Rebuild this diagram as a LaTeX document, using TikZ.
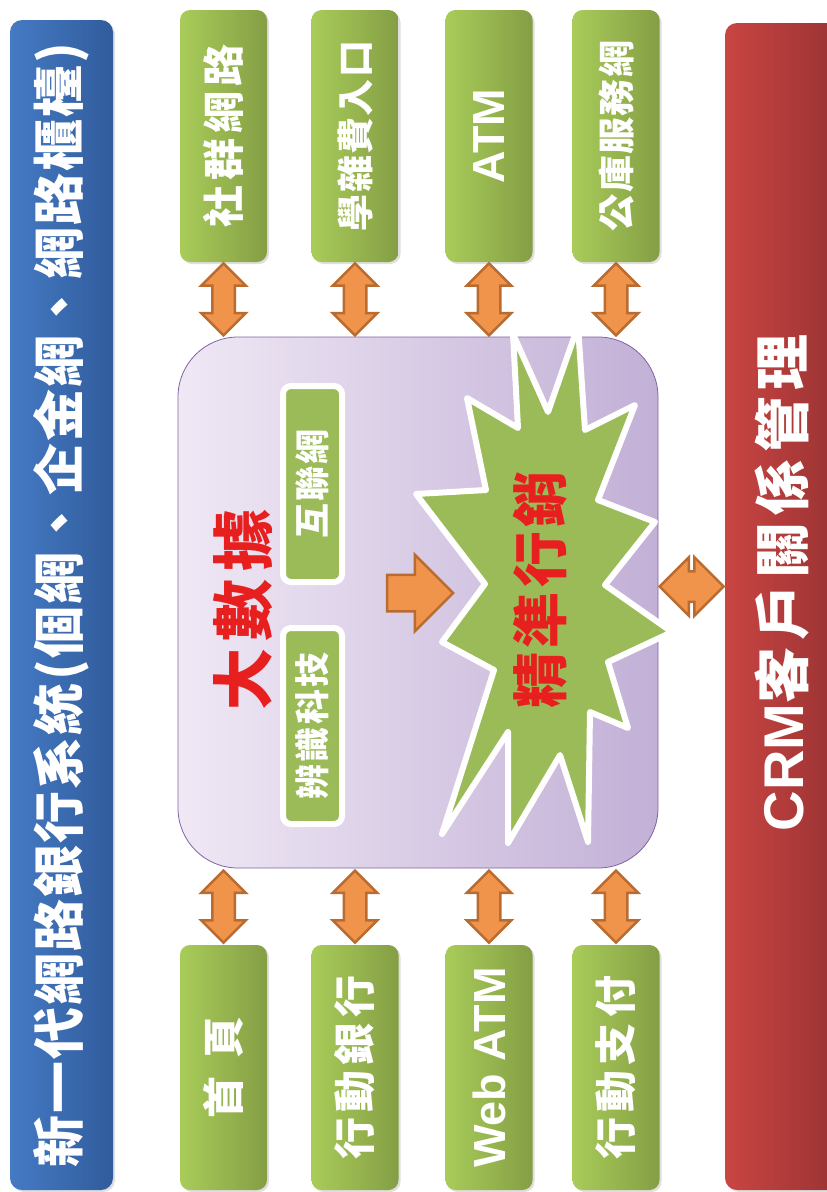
\documentclass[tikz,border=0pt]{standalone}
\usepackage{fontspec}
\setmainfont{Liberation Sans}
\newfontfamily\cjk{Noto Sans CJK TC}
\usetikzlibrary{shapes.arrows,shadows,calc}
\newcommand{\BOXW}{87pt}
\newcommand{\LINEPT}{2.5pt}
\newcommand{\BOXFONT}{\fontsize{42}{42}\selectfont\cjk\bfseries\addfontfeature{LetterSpace=12}}
\newcommand{\SMALLFONT}{\fontsize{37}{37}\selectfont\cjk\bfseries\addfontfeature{LetterSpace=4}}
\newcommand{\LATINFONT}{\fontsize{45}{45}\selectfont\bfseries}
\definecolor{mybluel}{rgb}{0.27,0.48,0.77}
\definecolor{myblued}{rgb}{0.19,0.36,0.61}
\definecolor{myredl}{rgb}{0.79,0.27,0.26}
\definecolor{myredd}{rgb}{0.60,0.20,0.20}
\definecolor{mygreenl}{rgb}{0.66,0.80,0.35}
\definecolor{mygreend}{rgb}{0.52,0.62,0.27}
\definecolor{mygreen}{rgb}{0.608,0.733,0.349}
\definecolor{mypurplel}{rgb}{0.94,0.91,0.96}
\definecolor{mypurpled}{rgb}{0.76,0.69,0.84}
\definecolor{mypurple}{rgb}{0.50,0.39,0.64}
\definecolor{myorange}{rgb}{0.94,0.58,0.30}
\definecolor{myoranged}{rgb}{0.73,0.42,0.19}
\definecolor{mytextred}{rgb}{0.91,0.12,0.12}

\tikzset{
	bar/.style={rectangle, rounded corners=12pt, text=white, inner sep=0pt,
		drop shadow={opacity=0.25, shadow xshift=2pt, shadow yshift=-2pt}},
	greenbox/.style={rectangle, rounded corners=10pt, minimum width=\BOXW, minimum height=252pt,
		left color=mygreenl, right color=mygreend, text=white, inner sep=0pt, font=\BOXFONT,
		drop shadow={opacity=0.25, shadow xshift=2pt, shadow yshift=-2pt}},
	innerbox/.style={rectangle, rounded corners=8pt, fill=mygreen, draw=white, line width=6pt,
		minimum width=59pt, minimum height=196pt, text=white, inner sep=0pt,
		font=\fontsize{35}{35}\selectfont\cjk\bfseries\addfontfeature{LetterSpace=6}},
	bigbox/.style={rectangle, rounded corners=60pt, minimum width=480pt, minimum height=531pt,
		left color=mypurplel, right color=mypurpled, draw=mypurple, line width=0.8pt},
	dblarrow/.style={double arrow, fill=myorange, draw=myoranged, line width=\LINEPT,
		inner xsep=0pt, inner ysep=10pt, double arrow head extend=11pt, minimum height=72pt},
	fatarrow/.style={single arrow, fill=myorange, draw=myoranged, line width=\LINEPT,
		inner xsep=0pt, inner ysep=17pt, single arrow head extend=20pt, minimum height=66pt},
	burst/.style={fill=mygreen, draw=white, line width=6pt, line join=round},
	redtext/.style={text=mytextred},
}

\begin{document}
\begin{tikzpicture}[x=1pt,y=-1pt]
	\useasboundingbox (0,0) rectangle (827,1192);
	\clip (0,0) rectangle (827,1192);
	
	%% side bars
	\node[bar, left color=mybluel, right color=myblued, minimum width=103pt, minimum height=1170pt] (web) at (61.5,605)
		{\rotatebox{90}{\fontsize{52}{52}\selectfont\cjk\bfseries\addfontfeature{LetterSpace=4} 新一代網路銀行系統(個網、企金網、網路櫃檯)}};
	\node[bar, left color=myredl, right color=myredd, minimum width=115pt, minimum height=1167pt] (crm) at (782.5,606.5) {};
	\node[text=white, font=\fontsize{56}{56}\selectfont\bfseries] (crmtext) at ($(crm.center)+(0,-24)$)
		{\rotatebox{90}{CRM{\cjk\addfontfeature{LetterSpace=12}客戶關係管理}}};
	
	%% big data area
	\node[bigbox] (big) at (418,602.5) {};
	
	%% channels
	\node[greenbox] (s1) at (223.5,136) {\rotatebox{90}{社群網路}};
	\node[greenbox, font=\SMALLFONT] (s2) at (355,136) {\rotatebox{90}{學雜費入口}};
	\node[greenbox, font=\LATINFONT] (s3) at (489,136) {\rotatebox{90}{ATM}};
	\node[greenbox, font=\SMALLFONT] (s4) at (616,136) {\rotatebox{90}{公庫服務網}};
	\node[greenbox, minimum height=245pt] (b1) at (223.5,1067.5) {\rotatebox{90}{首\hspace{18pt}頁}};
	\node[greenbox, minimum height=245pt] (b2) at (355,1067.5) {\rotatebox{90}{行動銀行}};
	\node[greenbox, minimum height=245pt, font=\LATINFONT] (b3) at (489,1067.5) {\rotatebox{90}{Web ATM}};
	\node[greenbox, minimum height=245pt] (b4) at (616,1067.5) {\rotatebox{90}{行動支付}};
	
	\foreach \n in {1,...,4}{
		\node[dblarrow, rotate=90] (up\n) at ($(s\n.south)!0.5!(s\n.south |- big.north)$) {};
		\node[dblarrow, rotate=90] (dn\n) at ($(b\n.north)!0.5!(b\n.north |- big.south)$) {};
	}
	\node[dblarrow, inner ysep=14pt, double arrow head extend=14pt, minimum height=64pt, yshift=18pt] (link) at ($(big.east)!0.5!(crm.west)$) {};
	
	%% inside
	\node[innerbox] (net) at (312.5,484) {\rotatebox{90}{互聯網}};
	\node[innerbox] (tech) at (312.5,726) {\rotatebox{90}{辨識科技}};
	\node[redtext, font=\fontsize{62}{62}\selectfont\cjk\bfseries\addfontfeature{LetterSpace=12}] (data) at (243,610) {\rotatebox{90}{大數據}};
	\node[fatarrow] (go) at (411,593) {};
	
	\draw[burst] (513,334) -- (548,412) -- (578,326) -- (585,430) -- (635,405) -- (598,500)
		-- (655,522) -- (605,585) -- (672,632) -- (608,662) -- (628,728) -- (590,712)
		-- (588,842) -- (560,755) -- (508,843) -- (508,732) -- (442,834) -- (494,670)
		-- (442,642) -- (485,584) -- (416,494) -- (486,490) -- (467,398) -- (518,428) -- cycle;
	\node[redtext, font=\fontsize{56}{56}\selectfont\cjk\bfseries\addfontfeature{LetterSpace=8}] (mkt) at (540,590) {\rotatebox{90}{精準行銷}};
	
\end{tikzpicture}
\end{document}
